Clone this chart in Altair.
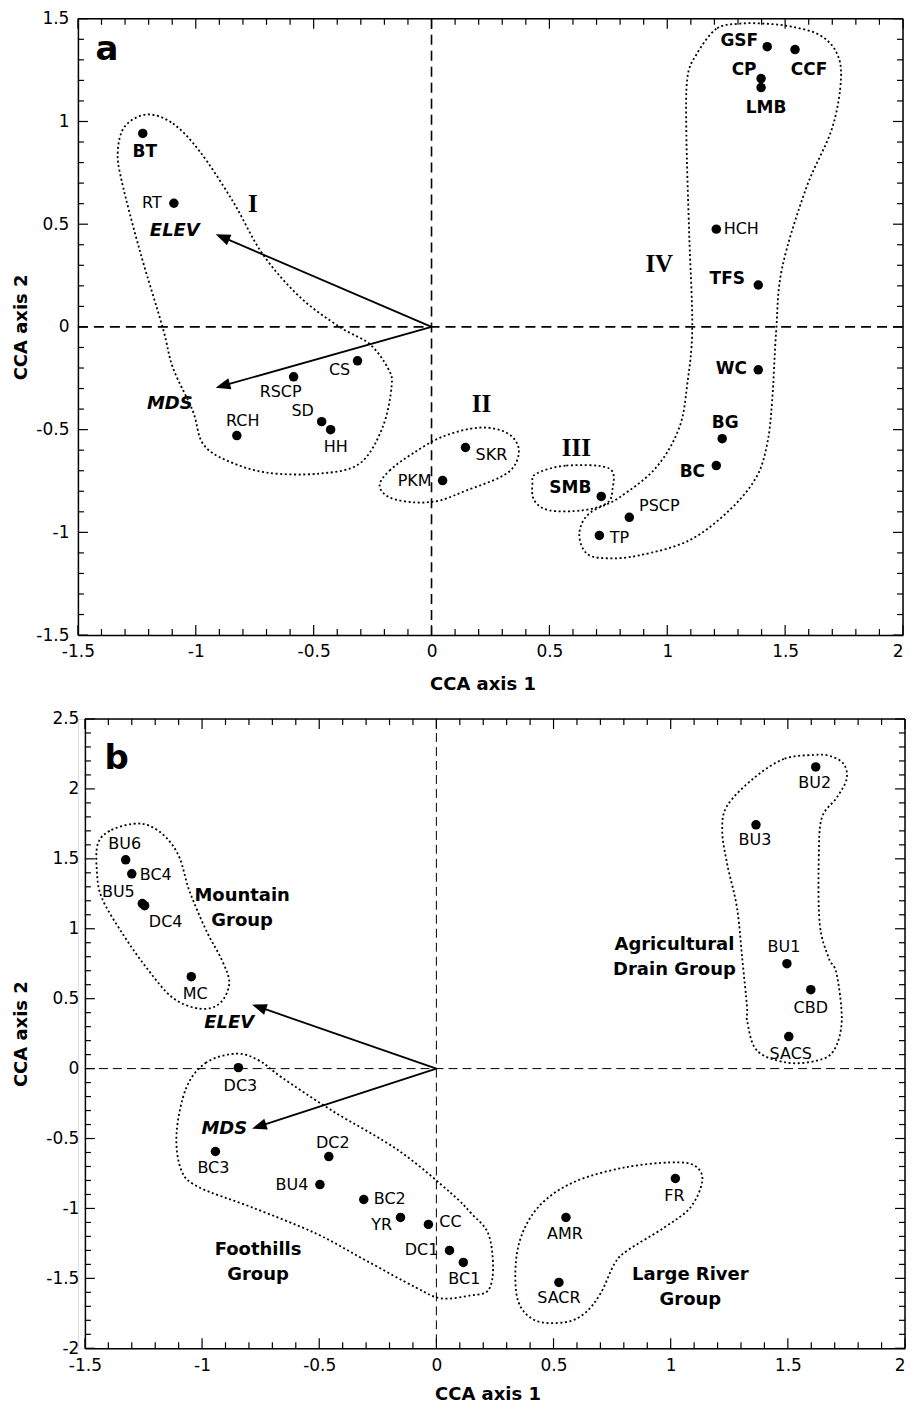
import math
import altair as alt
import pandas as pd

# ---------------- axes ----------------
XDOM = [-1.5, 2.0]
A_YDOM = [-1.5, 1.5]
B_YDOM = [-2.0, 2.5]
A_W, A_H = 826, 617
B_W, B_H = 821, 630
B_SHIFT = 7

x_major = [-1.5, -1, -0.5, 0, 0.5, 1, 1.5, 2]
a_y_major = [-1.5, -1, -0.5, 0, 0.5, 1, 1.5]
b_y_major = [-2, -1.5, -1, -0.5, 0, 0.5, 1, 1.5, 2, 2.5]

# ---------------- panel a : species ----------------
a_names = ["BT", "RT", "CS", "RSCP", "SD", "HH", "RCH", "PKM", "SKR", "SMB", "PSCP",
           "TP", "BC", "BG", "WC", "TFS", "HCH", "GSF", "CCF", "CP", "LMB"]
a_x = [-1.225, -1.093, -0.314, -0.585, -0.466, -0.428, -0.826, 0.047, 0.144, 0.72, 0.839,
       0.712, 1.208, 1.233, 1.386, 1.386, 1.208, 1.424, 1.542, 1.398, 1.398]
a_y = [0.942, 0.602, -0.165, -0.243, -0.461, -0.50, -0.529, -0.748, -0.587, -0.825, -0.927,
       -1.015, -0.675, -0.544, -0.209, 0.204, 0.476, 1.364, 1.35, 1.209, 1.165]
a_bold = [1, 0, 0, 0, 0, 0, 0, 0, 0, 1, 0, 0, 1, 1, 1, 1, 0, 1, 1, 1, 1]
a_dx = [2, -22, -18, -13, -19, 5, 6, -28, 26, -31, 30, 20, -24, 3, -27, -31, 25, -28, 14, -17, 5]
a_dy = [19, 0, 9, 15, -11, 17, -15, 0, 8, -8, -11, 3, 6, -16, -1, -6, 0, -6, 20, -9, 20]

a_arrow_names = ["ELEV", "MDS"]
a_arrow_x = [-0.915, -0.915]
a_arrow_y = [0.451, -0.296]
a_arrow_lab_x = [-1.089, -1.110]
a_arrow_lab_y = [0.466, -0.374]

a_group_names = ["I", "II", "III", "IV"]
a_group_x = [-0.758, 0.212, 0.614, 0.966]
a_group_y = [0.597, -0.374, -0.587, 0.306]

outline_I = [(-1.208, 1.034), (-1.097, 0.990), (-0.983, 0.854), (-0.843, 0.612), (-0.716, 0.354),
             (-0.559, 0.146), (-0.390, 0.0), (-0.263, -0.083), (-0.186, -0.199), (-0.169, -0.286),
             (-0.208, -0.490), (-0.305, -0.665), (-0.475, -0.714), (-0.699, -0.709), (-0.869, -0.650),
             (-0.970, -0.568), (-1.013, -0.408), (-1.097, -0.199), (-1.140, -0.005), (-1.237, 0.369),
             (-1.314, 0.709), (-1.331, 0.854), (-1.301, 0.976)]
outline_II = [(-0.220, -0.772), (-0.178, -0.699), (-0.081, -0.617), (0.047, -0.534), (0.203, -0.490),
              (0.318, -0.515), (0.369, -0.587), (0.352, -0.675), (0.288, -0.733), (0.148, -0.796),
              (0.034, -0.845), (-0.072, -0.854), (-0.178, -0.830)]
outline_III = [(0.445, -0.714), (0.572, -0.675), (0.754, -0.689), (0.767, -0.796), (0.742, -0.859),
               (0.640, -0.893), (0.500, -0.893), (0.436, -0.845), (0.428, -0.762)]
outline_IV = [(1.305, 1.476), (1.208, 1.451), (1.123, 1.325), (1.085, 1.209), (1.081, 0.937),
              (1.093, 0.451), (1.106, -0.005), (1.085, -0.277), (1.051, -0.490), (0.953, -0.684),
              (0.797, -0.830), (0.669, -0.908), (0.627, -1.005), (0.657, -1.102), (0.742, -1.126),
              (0.881, -1.112), (1.093, -1.039), (1.263, -0.893), (1.377, -0.733), (1.424, -0.568),
              (1.445, -0.359), (1.462, -0.019), (1.487, 0.286), (1.589, 0.675), (1.699, 0.966),
              (1.737, 1.209), (1.716, 1.340), (1.644, 1.422), (1.530, 1.461), (1.419, 1.476)]

# ---------------- panel b : sites ----------------
b_names = ["BU6", "BC4", "BU5", "DC4", "MC", "DC3", "BC3", "DC2", "BU4", "BC2", "YR", "CC",
           "DC1", "BC1", "AMR", "SACR", "FR", "SACS", "CBD", "BU1", "BU3", "BU2"]
b_x = [-1.326, -1.30, -1.255, -1.245, -1.046, -0.845, -0.943, -0.459, -0.497, -0.31, -0.153, -0.034,
       0.056, 0.115, 0.553, 0.523, 1.02, 1.504, 1.598, 1.496, 1.364, 1.619]
b_y = [1.493, 1.393, 1.18, 1.165, 0.657, 0.007, -0.593, -0.629, -0.829, -0.936, -1.064, -1.114,
       -1.30, -1.386, -1.064, -1.529, -0.786, 0.229, 0.564, 0.75, 1.743, 2.157]
b_dx = [-1, 24, -24, 21, 4, 2, -2, 4, -28, 26, -19, 22, -28, 1, -1, 0, -1, 2, 0, -3, -1, -1]
b_dy = [-16, 1, -12, 16, 17, 18, 17, -14, 0, 0, 8, -2, 0, 17, 17, 16, 18, 17, 18, -17, 15, 16]

b_arrow_names = ["ELEV", "MDS"]
b_arrow_x = [-0.786, -0.786]
b_arrow_y = [0.457, -0.429]
b_arrow_lab_x = [-0.884, -0.905]
b_arrow_lab_y = [0.329, -0.429]

b_group_names = ["Mountain\nGroup", "Foothills\nGroup", "Large River\nGroup", "Agricultural\nDrain Group"]
b_group_x = [-0.829, -0.761, 1.084, 1.016]
b_group_y = [1.236, -1.300, -1.479, 0.886]

outline_mountain = [(-1.296, 1.750), (-1.394, 1.700), (-1.445, 1.607), (-1.449, 1.414), (-1.428, 1.221),
                    (-1.339, 0.964), (-1.237, 0.721), (-1.126, 0.507), (-1.011, 0.429), (-0.926, 0.464),
                    (-0.884, 0.607), (-0.914, 0.771), (-0.982, 0.986), (-1.054, 1.271), (-1.096, 1.507),
                    (-1.152, 1.650), (-1.224, 1.736)]
outline_foothills = [(-0.854, 0.107), (-0.982, 0.043), (-1.067, -0.136), (-1.109, -0.464), (-1.088, -0.729),
                     (-1.011, -0.850), (-0.786, -0.993), (-0.514, -1.179), (-0.302, -1.371), (-0.089, -1.564),
                     (0.021, -1.643), (0.149, -1.621), (0.221, -1.586), (0.242, -1.421), (0.221, -1.179),
                     (0.149, -1.036), (0.064, -0.893), (-0.161, -0.586), (-0.446, -0.300), (-0.659, -0.064),
                     (-0.756, 0.057)]
outline_river = [(0.999, -0.671), (0.803, -0.707), (0.603, -0.800), (0.463, -0.943), (0.378, -1.136),
                 (0.340, -1.371), (0.348, -1.657), (0.421, -1.800), (0.548, -1.814), (0.633, -1.750),
                 (0.701, -1.607), (0.761, -1.393), (0.816, -1.300), (0.973, -1.136), (1.084, -0.993),
                 (1.135, -0.800), (1.101, -0.693)]
outline_drain = [(1.611, 2.243), (1.483, 2.214), (1.356, 2.079), (1.241, 1.879), (1.220, 1.700),
                 (1.241, 1.464), (1.283, 1.150), (1.305, 0.793), (1.326, 0.436), (1.326, 0.343),
                 (1.368, 0.129), (1.496, 0.043), (1.623, 0.057), (1.696, 0.129), (1.730, 0.343),
                 (1.708, 0.679), (1.674, 0.793), (1.636, 1.036), (1.632, 1.507), (1.645, 1.793),
                 (1.708, 1.936), (1.751, 2.071), (1.738, 2.179), (1.679, 2.236)]

SANS = "DejaVu Sans"
SERIF = "Liberation Serif"
HEAD = "M0,-1L-0.65,0.7L0.65,0.7Z"


def minor(lo, hi):
    n = int(round((hi - lo) * 10))
    return [round(lo + 0.1 * k, 2) for k in range(n + 1) if k % 5 != 0]


def outline_df(outlines):
    rows = []
    for g, pts in outlines.items():
        for i, (x, y) in enumerate(pts):
            rows.append({"g": g, "i": i, "x": x, "y": y})
    return pd.DataFrame(rows)


def panel(W, H, x_off, ydom, y_major, names, xs_, ys_, dxs, dys, bolds,
          arrow_names, arrow_x, arrow_y, arrow_lx, arrow_ly,
          outlines, letter, letter_xy, group_texts, group_font,
          xtitle_x, xtitle_y, ytitle_x, xlab_pad, ylab_pad, zero_dash, zero_w):
    Wv = W + x_off
    xs = alt.Scale(domain=XDOM, nice=False, zero=False, range=[x_off, Wv])
    ys = alt.Scale(domain=ydom, nice=False, zero=False)
    kx = W / (XDOM[1] - XDOM[0])
    ky = H / (ydom[1] - ydom[0])

    xaxis = alt.Axis(values=x_major, ticks=False, tickSize=0, grid=False, domain=True,
                     domainColor="black", domainWidth=1.5, labelFont=SANS, labelFontSize=17,
                     labelColor="black", labelPadding=xlab_pad, labelFlush=False, labelOverlap=False,
                     labelAlign=alt.condition("datum.value == 2", alt.value("right"), alt.value("center")),
                     labelExpr="'' + datum.value", title="CCA axis 1", titleFont=SANS,
                     titleFontSize=18, titleFontWeight="bold", titleColor="black",
                     titleX=xtitle_x + x_off, titleY=xtitle_y, titleBaseline="alphabetic")
    yaxis = alt.Axis(values=y_major, ticks=False, tickSize=0, grid=False, domain=True,
                     domainColor="black", domainWidth=1.5, labelFont=SANS, labelFontSize=17,
                     labelColor="black", labelPadding=ylab_pad, labelOverlap=False,
                     labelExpr="'' + datum.value", title="CCA axis 2", titleFont=SANS,
                     titleFontSize=18, titleFontWeight="bold", titleColor="black",
                     titleX=ytitle_x, titleY=H / 2, titleAngle=270, titleBaseline="alphabetic",
                     offset=-x_off)

    def X(f):
        return alt.X(f, scale=xs, axis=xaxis)

    def Y(f):
        return alt.Y(f, scale=ys, axis=yaxis)

    layers = []

    # frame (top and right edges; left/bottom are the axis domains)
    one = pd.DataFrame({"v": [0]})
    layers.append(alt.Chart(one).mark_rule(color="black", strokeWidth=1.5).encode(
        x=alt.value(x_off), x2=alt.value(Wv), y=alt.value(0)))
    layers.append(alt.Chart(one).mark_rule(color="black", strokeWidth=1.5).encode(
        x=alt.value(Wv), y=alt.value(0), y2=alt.value(H)))

    # inward ticks on all four sides
    for vals, ln in ((x_major, 10), (minor(XDOM[0], XDOM[1]), 6)):
        d = pd.DataFrame({"v": vals})
        layers.append(alt.Chart(d).mark_rule(color="black", strokeWidth=1.2).encode(
            x=X("v:Q"), y=alt.value(0), y2=alt.value(ln)))
        layers.append(alt.Chart(d).mark_rule(color="black", strokeWidth=1.2).encode(
            x=X("v:Q"), y=alt.value(H), y2=alt.value(H - ln)))
    for vals, ln in ((y_major, 10), (minor(ydom[0], ydom[1]), 6)):
        d = pd.DataFrame({"v": vals})
        layers.append(alt.Chart(d).mark_rule(color="black", strokeWidth=1.2).encode(
            y=Y("v:Q"), x=alt.value(x_off), x2=alt.value(x_off + ln)))
        layers.append(alt.Chart(d).mark_rule(color="black", strokeWidth=1.2).encode(
            y=Y("v:Q"), x=alt.value(Wv), x2=alt.value(Wv - ln)))

    # zero lines
    z = pd.DataFrame({"v": [0.0]})
    layers.append(alt.Chart(z).mark_rule(color="black", strokeWidth=zero_w, strokeDash=zero_dash).encode(
        x=X("v:Q"), y=alt.value(0), y2=alt.value(H)))
    layers.append(alt.Chart(z).mark_rule(color="black", strokeWidth=zero_w, strokeDash=zero_dash).encode(
        y=Y("v:Q"), x=alt.value(x_off), x2=alt.value(Wv)))

    # dotted outlines
    layers.append(alt.Chart(outline_df(outlines)).mark_line(
        interpolate="cardinal-closed", color="black", strokeWidth=1.8, strokeDash=[2, 2.6]).encode(
        x=X("x:Q"), y=Y("y:Q"), detail="g:N", order="i:Q"))

    # arrows
    rows = []
    for nm, tx, ty in zip(arrow_names, arrow_x, arrow_y):
        sx, sy = tx * kx, -ty * ky
        L = math.hypot(sx, sy)
        ux, uy = sx / L, sy / L
        back = 8.5
        hx = tx - back * ux / kx
        hy = ty + back * uy / ky
        ang = math.degrees(math.atan2(ux, -uy)) % 360
        rows.append({"n": nm, "x0": 0.0, "y0": 0.0, "hx": hx, "hy": hy, "ang": ang})
    adf = pd.DataFrame(rows)
    layers.append(alt.Chart(adf).mark_rule(color="black", strokeWidth=1.8).encode(
        x=X("x0:Q"), y=Y("y0:Q"), x2="hx:Q", y2="hy:Q"))
    layers.append(alt.Chart(adf).mark_point(shape=HEAD, filled=True, color="black", opacity=1,
                                            size=300, strokeWidth=0).encode(
        x=X("hx:Q"), y=Y("hy:Q"), angle=alt.Angle("ang:Q", scale=None)))
    aldf = pd.DataFrame({"t": arrow_names, "x": arrow_lx, "y": arrow_ly})
    layers.append(alt.Chart(aldf).mark_text(font=SANS, fontSize=18, fontWeight="bold",
                                            fontStyle="italic", color="black").encode(
        x=X("x:Q"), y=Y("y:Q"), text="t:N"))

    # points
    pdf = pd.DataFrame({"n": names, "x": xs_, "y": ys_, "b": bolds,
                        "lx": [x + dx / kx for x, dx in zip(xs_, dxs)],
                        "ly": [y - dy / ky for y, dy in zip(ys_, dys)]})
    layers.append(alt.Chart(pdf).mark_circle(size=90, color="black", opacity=1).encode(
        x=X("x:Q"), y=Y("y:Q")))
    reg = pdf[pdf.b == 0]
    bld = pdf[pdf.b == 1]
    layers.append(alt.Chart(reg).mark_text(font=SANS, fontSize=16, color="black").encode(
        x=X("lx:Q"), y=Y("ly:Q"), text="n:N"))
    if len(bld):
        layers.append(alt.Chart(bld).mark_text(font=SANS, fontSize=17, fontWeight="bold",
                                               color="black").encode(
            x=X("lx:Q"), y=Y("ly:Q"), text="n:N"))

    # panel letter
    ldf = pd.DataFrame({"t": [letter], "x": [letter_xy[0]], "y": [letter_xy[1]]})
    layers.append(alt.Chart(ldf).mark_text(font=SANS, fontSize=34, fontWeight="bold", color="black").encode(
        x=X("x:Q"), y=Y("y:Q"), text="t:N"))

    # group labels
    gnames, gx, gy = group_texts
    gdf = pd.DataFrame({"t": gnames, "x": gx, "y": gy})
    layers.append(alt.Chart(gdf).mark_text(lineBreak="\n", lineHeight=25, color="black", **group_font).encode(
        x=X("x:Q"), y=Y("y:Q"), text="t:N"))

    return alt.layer(*layers).properties(width=Wv, height=H)


pa = panel(A_W, A_H, 0, A_YDOM, a_y_major, a_names, a_x, a_y, a_dx, a_dy, a_bold,
           a_arrow_names, a_arrow_x, a_arrow_y, a_arrow_lab_x, a_arrow_lab_y,
           {"I": outline_I, "II": outline_II, "III": outline_III, "IV": outline_IV},
           "a", (-1.377, 1.350), (a_group_names, a_group_x, a_group_y),
           {"font": SERIF, "fontSize": 25, "fontWeight": "bold"},
           405, 54, -51, 8, 9, [10, 6], 1.6)

pb = panel(B_W, B_H, B_SHIFT, B_YDOM, b_y_major, b_names, b_x, b_y, b_dx, b_dy, [0] * len(b_names),
           b_arrow_names, b_arrow_x, b_arrow_y, b_arrow_lab_x, b_arrow_lab_y,
           {"m": outline_mountain, "f": outline_foothills, "r": outline_river, "d": outline_drain},
           "b", (-1.364, 2.214), (b_group_names, b_group_x, b_group_y),
           {"font": SANS, "fontSize": 18, "fontWeight": "bold"},
           403, 51, -58, 9, 6, [9, 5], 1.0)

chart = alt.vconcat(pa, pb, spacing=15).properties(
    padding={"left": 4, "top": 0, "right": 0, "bottom": -1.5}
).configure_view(stroke="transparent").configure(background="white")

chart.save("out.html", embed_options={"renderer": "svg", "actions": False})
